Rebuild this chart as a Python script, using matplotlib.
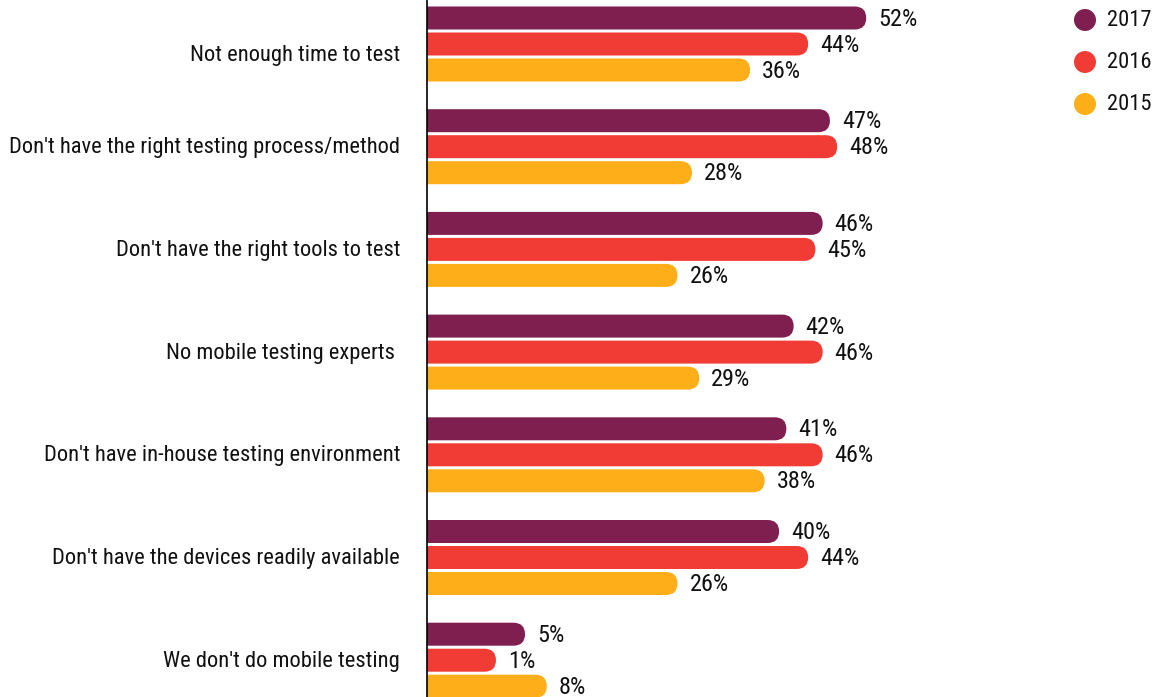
import matplotlib.pyplot as plt
from matplotlib import font_manager
from matplotlib.patches import FancyBboxPatch, Circle

installed = {f.name for f in font_manager.fontManager.ttflist}
narrow = [f for f in ["Roboto Condensed", "Liberation Sans Narrow", "Arial Narrow"] if f in installed]
plt.rcParams['font.family'] = narrow + ['Roboto', 'DejaVu Sans']
fs = 16.2 if narrow else 14.5
fs_val = 17.5 if narrow else 15

# challenges in mobile testing, share of respondents per year
categories = [
    "Not enough time to test",
    "Don't have the right testing process/method",
    "Don't have the right tools to test",
    "No mobile testing experts ",
    "Don't have in-house testing environment",
    "Don't have the devices readily available",
    "We don't do mobile testing",
]
years = ["2017", "2016", "2015"]
vals_2017 = [52, 47, 46, 42, 41, 40, 5]
vals_2016 = [44, 48, 45, 46, 46, 44, 1]
vals_2015 = [36, 28, 26, 29, 38, 26, 8]
colors = ["#7f1f4f", "#f03c35", "#fdae19"]

W, H = 1168, 697
fig = plt.figure(figsize=(W / 100, H / 100), dpi=100)
ax_left = 427
ax = fig.add_axes([ax_left / W, 0, 1 - ax_left / W, 1])

px_x = 7.26      # pixels per percent
px_y = 102.7     # pixels per category
base = 8.5       # bars carry a fixed stub beyond the value
ax.set_xlim(0, (W - ax_left) / px_x)
ax.set_ylim((H - 44) / px_y, -44 / px_y)
ax.axis("off")

pitch = 26 / px_y
bh = 23 / px_y
r = 11.5 / px_x
aspect = (11.5 / px_y) / r

for i, series in enumerate([vals_2017, vals_2016, vals_2015]):
    for j, v in enumerate(series):
        yc = j + (i - 1) * pitch
        length = v + base
        box = FancyBboxPatch((-5, yc - bh / 2), length + 5, bh,
                             boxstyle=f"round,pad=0,rounding_size={r}",
                             mutation_aspect=aspect, fc=colors[i], ec="none")
        ax.add_patch(box)
        ax.text(length + 12 / px_x, yc + 1 / px_y, f"{v}%", va="center",
                ha="left", fontsize=fs_val, color="#111111")

ax.plot([0, 0], [-1, 8], color="black", lw=1.2, clip_on=False)

for j, cat in enumerate(categories):
    ypx = 44 + j * px_y + (12 if j == 0 else 1)   # first label sits lower
    fig.text(400 / W, 1 - ypx / H, cat, ha="right", va="center", fontsize=fs,
             color="#111111")

# legend
for k, yr in enumerate(years):
    cy = 20 + k * 42
    fig.patches.append(Circle((1085 / 100, (H - cy) / 100), 0.11,
                              transform=fig.dpi_scale_trans,
                              fc=colors[k], ec="none"))
    fig.text(1107 / W, 1 - cy / H, yr, ha="left", va="center", fontsize=fs,
             color="#111111")

fig.savefig("out.png", dpi=100)
